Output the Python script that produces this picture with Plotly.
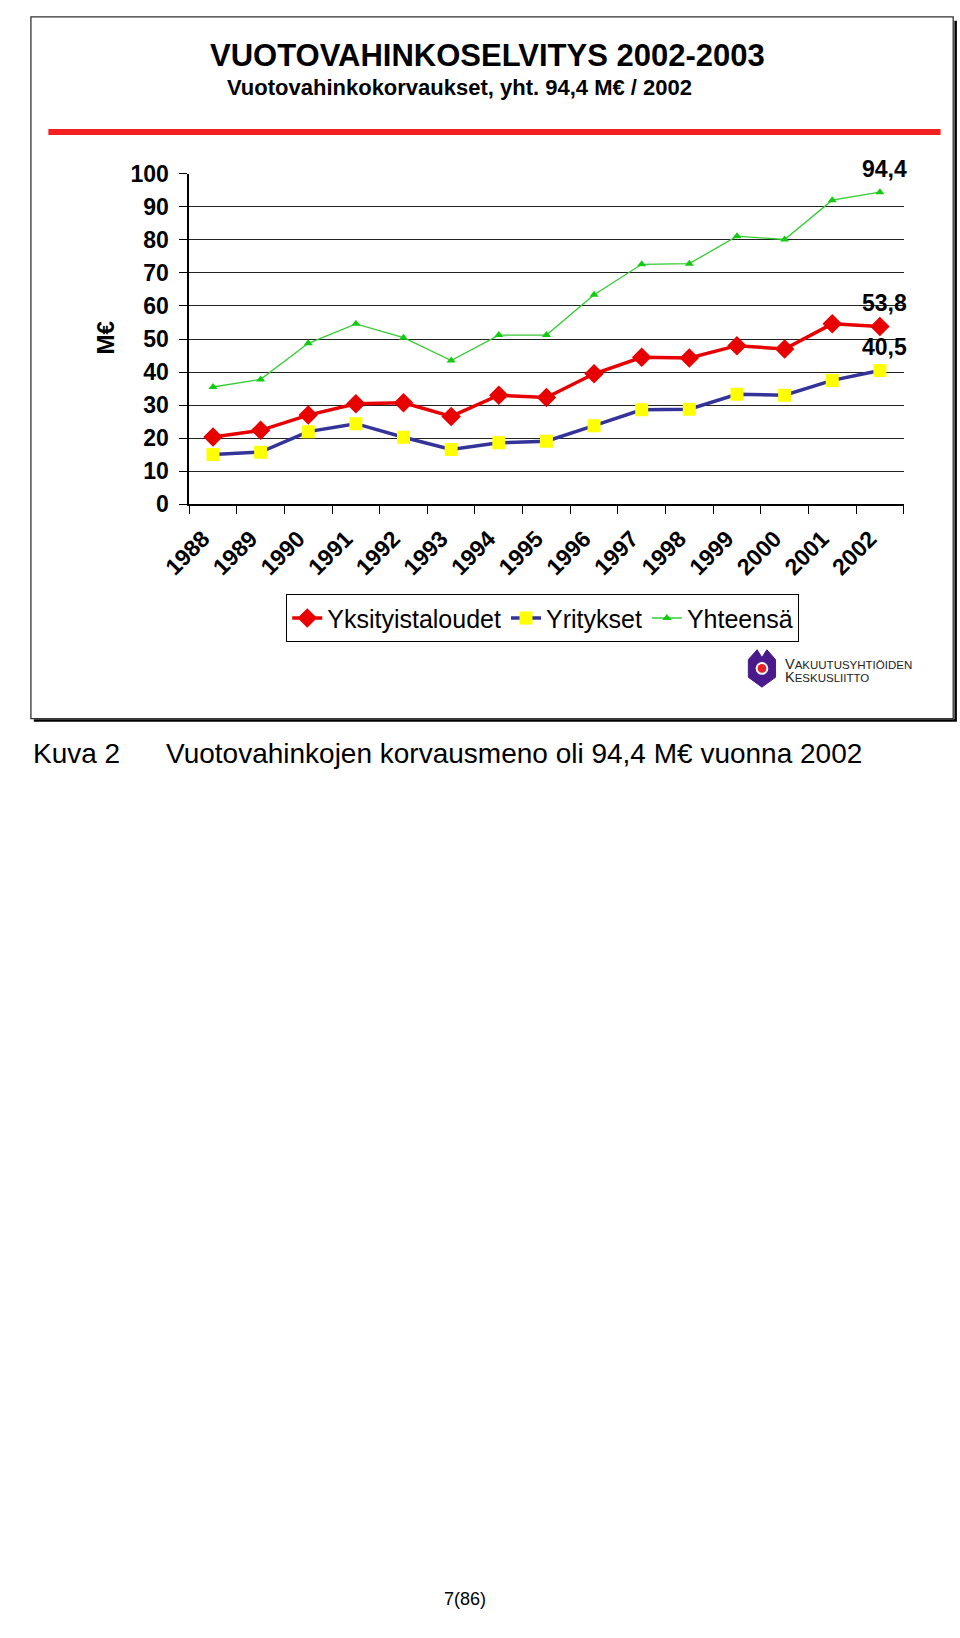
import plotly.graph_objects as go

# ---- data ----
years = [str(y) for y in range(1988, 2003)]
yksityistaloudet = [20.4, 22.4, 27.0, 30.4, 30.7, 26.6, 33.0, 32.3, 39.5, 44.5, 44.3, 48.0, 47.0, 54.6, 53.8]
yritykset = [15.1, 15.8, 22.0, 24.4, 20.3, 16.6, 18.6, 19.1, 23.8, 28.6, 28.8, 33.3, 33.0, 37.5, 40.5]
yhteensa = [35.5, 37.8, 48.7, 54.6, 50.4, 43.5, 51.2, 51.2, 63.4, 72.6, 72.8, 81.1, 80.1, 92.0, 94.4]
series_names = ["Yksityistaloudet", "Yritykset", "Yhteensä"]
y_ticks = list(range(0, 101, 10))

W, H = 960, 1638


def px(x):
    return x / W


def py(y):
    return 1 - y / H


ARIAL = "Liberation Sans, Arial, sans-serif"

fig = go.Figure()
fig.add_trace(go.Scatter(
    x=years, y=yksityistaloudet, name=series_names[0], mode="lines+markers",
    line=dict(color="#E80000", width=3.5),
    marker=dict(symbol="diamond", size=15, color="#E80000"),
))
fig.add_trace(go.Scatter(
    x=years, y=yritykset, name=series_names[1], mode="lines+markers",
    line=dict(color="#333399", width=3.5),
    marker=dict(symbol="square", size=13, color="#FFFF00"),
))
fig.add_trace(go.Scatter(
    x=years, y=yhteensa, name=series_names[2], mode="lines+markers",
    line=dict(color="#33CC33", width=1.3),
    marker=dict(symbol="triangle-up", size=8, color="#11CC11"),
))

last = len(years) - 1
annotations = []
for vals in (yhteensa, yksityistaloudet, yritykset):
    annotations.append(dict(
        x=last, y=vals[-1], xref="x", yref="y",
        text="<b>" + f"{vals[-1]:.1f}".replace(".", ",") + "</b>",
        showarrow=False, yanchor="bottom", xanchor="center",
        yshift=8, xshift=5,
        font=dict(family=ARIAL, size=23, color="black"),
    ))

annotations.append(dict(
    x=px(473), y=py(43), xref="paper", yref="paper",
    text="<b>VUOTOVAHINKOSELVITYS 2002-2003</b>", showarrow=False,
    xanchor="center", yanchor="middle",
    font=dict(family=ARIAL, size=31, color="black"),
))
annotations.append(dict(
    x=px(444), y=py(76), xref="paper", yref="paper",
    text="<b>Vuotovahinkokorvaukset, yht. 94,4 M€ / 2002</b>", showarrow=False,
    xanchor="center", yanchor="middle",
    font=dict(family=ARIAL, size=22, color="black"),
))
annotations.append(dict(
    x=px(80), y=py(330), xref="paper", yref="paper",
    text="<b>M€</b>", showarrow=False, textangle=-90,
    xanchor="center", yanchor="middle",
    font=dict(family=ARIAL, size=24, color="black"),
))
annotations.append(dict(
    x=px(778), y=py(661), xref="paper", yref="paper",
    text="V<span style='font-size:11.5px'>AKUUTUSYHTIÖIDEN</span>",
    showarrow=False, xanchor="left", yanchor="middle",
    font=dict(family=ARIAL, size=14.5, color="#222"),
))
annotations.append(dict(
    x=px(778), y=py(675), xref="paper", yref="paper",
    text="K<span style='font-size:11.5px'>ESKUSLIITTO</span>",
    showarrow=False, xanchor="left", yanchor="middle",
    font=dict(family=ARIAL, size=14.5, color="#222"),
))
annotations.append(dict(
    x=px(3), y=py(752), xref="paper", yref="paper",
    text="Kuva 2", showarrow=False, xanchor="left", yanchor="middle",
    font=dict(family=ARIAL, size=28, color="black"),
))
annotations.append(dict(
    x=px(140), y=py(752), xref="paper", yref="paper",
    text="Vuotovahinkojen korvausmeno oli 94,4 M€ vuonna 2002", showarrow=False,
    xanchor="left", yanchor="middle",
    font=dict(family=ARIAL, size=28, color="black"),
))
annotations.append(dict(
    x=px(450), y=py(1612), xref="paper", yref="paper",
    text="7(86)", showarrow=False, xanchor="center", yanchor="middle",
    font=dict(family=ARIAL, size=18, color="black"),
))

shapes = []
# chart frame with shadow
shapes.append(dict(type="path", xref="paper", yref="paper",
                   path=f"M {px(955.5)} {py(8)} L {px(955.5)} {py(719)} L {px(6)} {py(719)}",
                   line=dict(color="black", width=2.5)))
shapes.append(dict(type="rect", xref="paper", yref="paper",
                   x0=px(3), x1=px(953), y0=py(717), y1=py(4),
                   line=dict(color="#333", width=1.3)))
# red rule under the titles
shapes.append(dict(type="line", xref="paper", yref="paper",
                   x0=px(21), x1=px(940), y0=py(121), y1=py(121),
                   line=dict(color="#F22020", width=6)))
# logo emblem
cx, cy = 756, 666
pts = [(-14, -9), (-5, -19), (0, -11), (5, -19), (14, -9), (14, 9), (0, 19), (-14, 9)]
path = "M " + " L ".join(f"{px(cx + a)} {py(cy + b)}" for a, b in pts) + " Z"
shapes.append(dict(type="path", xref="paper", yref="paper", path=path,
                   fillcolor="#4A1A8C", line=dict(color="#4A1A8C", width=1)))
shapes.append(dict(type="circle", xref="paper", yref="paper",
                   x0=px(cx - 6.5), x1=px(cx + 6.5), y0=py(cy + 6.5), y1=py(cy - 6.5),
                   fillcolor="white", line=dict(width=0)))
shapes.append(dict(type="circle", xref="paper", yref="paper",
                   x0=px(cx - 4.5), x1=px(cx + 4.5), y0=py(cy + 4.5), y1=py(cy - 4.5),
                   fillcolor="#E8202A", line=dict(width=0)))

fig.update_layout(
    width=W, height=H,
    margin=dict(l=0, r=0, t=0, b=0),
    paper_bgcolor="white", plot_bgcolor="white",
    showlegend=True,
    legend=dict(
        orientation="h", x=px(266), y=py(615), xanchor="left", yanchor="middle",
        bordercolor="black", borderwidth=1, bgcolor="white",
        font=dict(family=ARIAL, size=25, color="black"),
        itemwidth=30, tracegroupgap=0,
    ),
    xaxis=dict(
        type="category", domain=[px(166), px(902)], range=[-0.5, 14.5],
        showline=True, linecolor="black", linewidth=1.5,
        ticks="outside", tickson="boundaries", ticklen=8, tickcolor="black", tickwidth=1.3,
        showgrid=False, tickangle=-45,
        tickfont=dict(family=ARIAL, size=23, color="black", weight="bold"),
        ticklabelstandoff=10, ticklabelshift=-10,
        fixedrange=True,
    ),
    yaxis=dict(
        range=[0, 100], domain=[py(499.3), py(163.3)],
        tickvals=y_ticks, ticktext=[str(v) for v in y_ticks],
        showline=True, linecolor="black", linewidth=1.5,
        ticks="outside", ticklen=8, tickcolor="black", tickwidth=1.3,
        showgrid=True, gridcolor="#222", gridwidth=1.3, zeroline=False,
        tickfont=dict(family=ARIAL, size=23, color="black", weight="bold"),
        ticklabelstandoff=6,
        fixedrange=True,
    ),
    annotations=annotations,
    shapes=shapes,
)

post = (
    "document.documentElement.style.margin='0px';"
    "document.body.style.margin='0px';"
    "document.body.style.overflow='hidden';"
)
fig.write_html("out.html", config={"displayModeBar": False}, post_script=post)
